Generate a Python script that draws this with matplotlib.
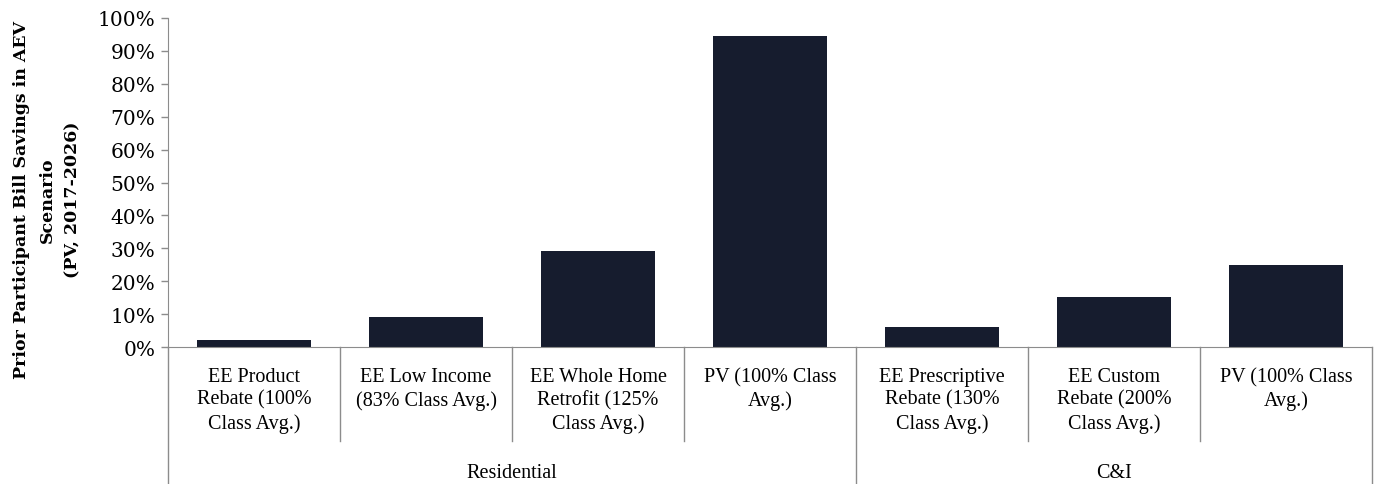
"""Prior participant bill savings by program, grouped by customer class."""

import matplotlib
matplotlib.use("Agg")
import matplotlib.pyplot as plt
import matplotlib.transforms as mtransforms
import numpy as np

# data
programs = [
    "EE Product\nRebate (100%\nClass Avg.)",
    "EE Low Income\n(83% Class Avg.)",
    "EE Whole Home\nRetrofit (125%\nClass Avg.)",
    "PV (100% Class\nAvg.)",
    "EE Prescriptive\nRebate (130%\nClass Avg.)",
    "EE Custom\nRebate (200%\nClass Avg.)",
    "PV (100% Class\nAvg.)",
]
savings = [0.021, 0.092, 0.292, 0.945, 0.060, 0.152, 0.250]
groups = ["Residential", "C&I"]
group_sizes = [4, 3]

BAR = "#161c2e"
GRID = "#8c8c8c"
cat_font = "Liberation Serif"
tick_font = "DejaVu Serif"

fig = plt.figure(figsize=(13.8, 4.85), dpi=100)
ax = fig.add_axes([168 / 1380, 1 - 348 / 485, (1372 - 168) / 1380, (348 - 19) / 485])

x = np.arange(len(programs))
ax.bar(x, savings, width=0.66, color=BAR, zorder=2)

ax.set_xlim(-0.5, len(programs) - 0.5)
ax.set_ylim(0, 1)
ax.set_yticks(np.arange(0, 1.01, 0.1))
ax.set_yticklabels([f"{int(round(v * 100))}%" for v in np.arange(0, 1.01, 0.1)],
                   fontfamily=tick_font, fontsize=14.5)
ax.set_xticks([])
ax.tick_params(axis="y", length=5, color=GRID, width=1, pad=4)

for s in ["top", "right"]:
    ax.spines[s].set_visible(False)
ax.spines["left"].set_color(GRID)
ax.spines["bottom"].set_color(GRID)

trans = mtransforms.blended_transform_factory(ax.transData, ax.transAxes)

# program labels
for i, lab in enumerate(programs):
    ax.text(i, -0.06, lab, transform=trans, ha="center", va="top",
            fontfamily=cat_font, fontsize=14.5, linespacing=1.28, multialignment="center")

# separators: inner ones short, group edges run to the bottom
edges = np.cumsum([0] + group_sizes) - 0.5
for b in np.arange(len(programs) + 1) - 0.5:
    bottom = -0.42 if np.any(np.isclose(edges, b)) else -0.286
    ax.plot([b, b], [0, bottom], transform=trans, color=GRID, lw=1, clip_on=False)

# group labels
for g, lo, hi in zip(groups, edges[:-1], edges[1:]):
    ax.text((lo + hi) / 2, -0.38, g, transform=trans, ha="center", va="center",
            fontfamily=cat_font, fontsize=14.5)

fig.text(47 / 1380, 1 - 200 / 485,
         "Prior Participant Bill Savings in AEV\nScenario\n(PV, 2017-2026)",
         rotation=90, ha="center", va="center", multialignment="center",
         fontfamily=tick_font, fontweight="bold", fontsize=12.5, linespacing=1.65)

fig.savefig("out.png", dpi=100, facecolor="white")
